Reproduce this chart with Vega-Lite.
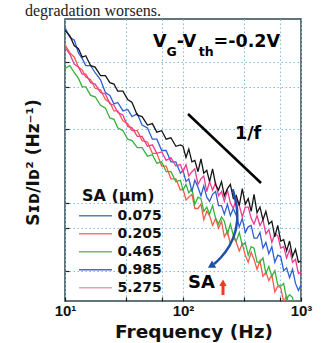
{
  "$schema": "https://vega.github.io/schema/vega-lite/v6.json",
  "width": 236,
  "height": 282,
  "autosize": {"type": "none"},
  "padding": {"left": 65, "top": 19, "right": 31, "bottom": 42},
  "background": "white",
  "title": {"text": "degradation worsens.", "anchor": "start", "frame": "group", "dx": -40, "offset": -12.5, "baseline": "alphabetic", "font": "Liberation Serif", "fontSize": 16, "fontWeight": "normal", "color": "#222222"},
  "config": {"view": {"stroke": "#2f4a4f", "strokeWidth": 1.5}},
  "datasets": {
    "legendkey": [
      {"sa": "0.075", "freq": 100, "lp": -7},
      {"sa": "0.205", "freq": 100, "lp": -7},
      {"sa": "0.465", "freq": 100, "lp": -7},
      {"sa": "0.985", "freq": 100, "lp": -7},
      {"sa": "5.275", "freq": 100, "lp": -7}
    ],
    "spectra": [
      {"sa":"0.205","freq":10,"lp":-6.40},{"sa":"0.205","freq":11,"lp":-6.46},{"sa":"0.205","freq":12,"lp":-6.49},{"sa":"0.205","freq":13,"lp":-6.56},{"sa":"0.205","freq":14,"lp":-6.58},{"sa":"0.205","freq":15,"lp":-6.63},{"sa":"0.205","freq":16.5,"lp":-6.65},{"sa":"0.205","freq":18,"lp":-6.71},{"sa":"0.205","freq":20,"lp":-6.72},{"sa":"0.205","freq":22,"lp":-6.79},{"sa":"0.205","freq":24,"lp":-6.81},{"sa":"0.205","freq":26,"lp":-6.87},{"sa":"0.205","freq":28,"lp":-6.87},{"sa":"0.205","freq":31,"lp":-6.94},{"sa":"0.205","freq":34,"lp":-6.96},{"sa":"0.205","freq":37,"lp":-7.01},{"sa":"0.205","freq":41,"lp":-7.01},{"sa":"0.205","freq":45,"lp":-7.08},{"sa":"0.205","freq":50,"lp":-7.09},{"sa":"0.205","freq":55,"lp":-7.17},{"sa":"0.205","freq":60,"lp":-7.17},{"sa":"0.205","freq":66,"lp":-7.26},{"sa":"0.205","freq":72,"lp":-7.26},{"sa":"0.205","freq":79,"lp":-7.35},{"sa":"0.205","freq":87,"lp":-7.35},{"sa":"0.205","freq":95,"lp":-7.43},
      {"sa":"0.205","freq":100,"lp":-7.42},{"sa":"0.205","freq":106,"lp":-7.50},{"sa":"0.205","freq":112,"lp":-7.48},{"sa":"0.205","freq":119,"lp":-7.46},{"sa":"0.205","freq":126,"lp":-7.56},{"sa":"0.205","freq":134,"lp":-7.56},{"sa":"0.205","freq":142,"lp":-7.53},{"sa":"0.205","freq":150,"lp":-7.64},{"sa":"0.205","freq":159,"lp":-7.58},{"sa":"0.205","freq":168,"lp":-7.61},{"sa":"0.205","freq":178,"lp":-7.68},{"sa":"0.205","freq":189,"lp":-7.63},{"sa":"0.205","freq":200,"lp":-7.70},{"sa":"0.205","freq":212,"lp":-7.65},{"sa":"0.205","freq":224,"lp":-7.76},{"sa":"0.205","freq":238,"lp":-7.72},{"sa":"0.205","freq":252,"lp":-7.81},{"sa":"0.205","freq":267,"lp":-7.76},{"sa":"0.205","freq":283,"lp":-7.80},{"sa":"0.205","freq":300,"lp":-7.86},{"sa":"0.205","freq":318,"lp":-7.81},{"sa":"0.205","freq":337,"lp":-7.89},{"sa":"0.205","freq":357,"lp":-7.94},{"sa":"0.205","freq":378,"lp":-7.87},{"sa":"0.205","freq":400,"lp":-7.92},{"sa":"0.205","freq":424,"lp":-7.99},{"sa":"0.205","freq":449,"lp":-7.93},{"sa":"0.205","freq":476,"lp":-8.04},{"sa":"0.205","freq":504,"lp":-8.01},{"sa":"0.205","freq":534,"lp":-8.07},{"sa":"0.205","freq":566,"lp":-8.03},{"sa":"0.205","freq":600,"lp":-8.15},{"sa":"0.205","freq":635,"lp":-8.11},{"sa":"0.205","freq":673,"lp":-8.12},{"sa":"0.205","freq":713,"lp":-8.22},{"sa":"0.205","freq":755,"lp":-8.18},{"sa":"0.205","freq":800,"lp":-8.27},{"sa":"0.205","freq":848,"lp":-8.26},{"sa":"0.205","freq":898,"lp":-8.36},{"sa":"0.205","freq":951,"lp":-8.34},{"sa":"0.205","freq":1000,"lp":-8.39},
      {"sa":"0.465","freq":10,"lp":-6.57},{"sa":"0.465","freq":11,"lp":-6.55},{"sa":"0.465","freq":12,"lp":-6.60},{"sa":"0.465","freq":13,"lp":-6.64},{"sa":"0.465","freq":14,"lp":-6.70},{"sa":"0.465","freq":15,"lp":-6.70},{"sa":"0.465","freq":16.5,"lp":-6.76},{"sa":"0.465","freq":18,"lp":-6.77},{"sa":"0.465","freq":20,"lp":-6.83},{"sa":"0.465","freq":22,"lp":-6.85},{"sa":"0.465","freq":24,"lp":-6.92},{"sa":"0.465","freq":26,"lp":-6.93},{"sa":"0.465","freq":28,"lp":-6.99},{"sa":"0.465","freq":31,"lp":-7.01},{"sa":"0.465","freq":34,"lp":-7.07},{"sa":"0.465","freq":37,"lp":-7.08},{"sa":"0.465","freq":41,"lp":-7.13},{"sa":"0.465","freq":45,"lp":-7.13},{"sa":"0.465","freq":50,"lp":-7.19},{"sa":"0.465","freq":55,"lp":-7.18},{"sa":"0.465","freq":60,"lp":-7.24},{"sa":"0.465","freq":66,"lp":-7.23},{"sa":"0.465","freq":72,"lp":-7.30},{"sa":"0.465","freq":79,"lp":-7.30},{"sa":"0.465","freq":87,"lp":-7.37},{"sa":"0.465","freq":95,"lp":-7.36},
      {"sa":"0.465","freq":100,"lp":-7.43},{"sa":"0.465","freq":106,"lp":-7.39},{"sa":"0.465","freq":112,"lp":-7.45},{"sa":"0.465","freq":119,"lp":-7.42},{"sa":"0.465","freq":126,"lp":-7.53},{"sa":"0.465","freq":134,"lp":-7.48},{"sa":"0.465","freq":142,"lp":-7.49},{"sa":"0.465","freq":150,"lp":-7.58},{"sa":"0.465","freq":159,"lp":-7.55},{"sa":"0.465","freq":168,"lp":-7.60},{"sa":"0.465","freq":178,"lp":-7.54},{"sa":"0.465","freq":189,"lp":-7.63},{"sa":"0.465","freq":200,"lp":-7.67},{"sa":"0.465","freq":212,"lp":-7.62},{"sa":"0.465","freq":224,"lp":-7.65},{"sa":"0.465","freq":238,"lp":-7.74},{"sa":"0.465","freq":252,"lp":-7.67},{"sa":"0.465","freq":267,"lp":-7.75},{"sa":"0.465","freq":283,"lp":-7.79},{"sa":"0.465","freq":300,"lp":-7.73},{"sa":"0.465","freq":318,"lp":-7.82},{"sa":"0.465","freq":337,"lp":-7.80},{"sa":"0.465","freq":357,"lp":-7.89},{"sa":"0.465","freq":378,"lp":-7.83},{"sa":"0.465","freq":400,"lp":-7.84},{"sa":"0.465","freq":424,"lp":-7.94},{"sa":"0.465","freq":449,"lp":-7.94},{"sa":"0.465","freq":476,"lp":-7.91},{"sa":"0.465","freq":504,"lp":-8.02},{"sa":"0.465","freq":534,"lp":-7.97},{"sa":"0.465","freq":566,"lp":-8.04},{"sa":"0.465","freq":600,"lp":-8.00},{"sa":"0.465","freq":635,"lp":-8.10},{"sa":"0.465","freq":673,"lp":-8.11},{"sa":"0.465","freq":713,"lp":-8.09},{"sa":"0.465","freq":755,"lp":-8.20},{"sa":"0.465","freq":800,"lp":-8.17},{"sa":"0.465","freq":848,"lp":-8.19},{"sa":"0.465","freq":898,"lp":-8.30},{"sa":"0.465","freq":951,"lp":-8.27},{"sa":"0.465","freq":1000,"lp":-8.33},
      {"sa":"0.985","freq":10,"lp":-6.28},{"sa":"0.985","freq":11,"lp":-6.35},{"sa":"0.985","freq":12,"lp":-6.37},{"sa":"0.985","freq":13,"lp":-6.46},{"sa":"0.985","freq":14,"lp":-6.50},{"sa":"0.985","freq":15,"lp":-6.55},{"sa":"0.985","freq":16.5,"lp":-6.55},{"sa":"0.985","freq":18,"lp":-6.60},{"sa":"0.985","freq":20,"lp":-6.65},{"sa":"0.985","freq":22,"lp":-6.74},{"sa":"0.985","freq":24,"lp":-6.76},{"sa":"0.985","freq":26,"lp":-6.82},{"sa":"0.985","freq":28,"lp":-6.81},{"sa":"0.985","freq":31,"lp":-6.87},{"sa":"0.985","freq":34,"lp":-6.86},{"sa":"0.985","freq":37,"lp":-6.91},{"sa":"0.985","freq":41,"lp":-6.89},{"sa":"0.985","freq":45,"lp":-6.97},{"sa":"0.985","freq":50,"lp":-6.99},{"sa":"0.985","freq":55,"lp":-7.07},{"sa":"0.985","freq":60,"lp":-7.07},{"sa":"0.985","freq":66,"lp":-7.15},{"sa":"0.985","freq":72,"lp":-7.15},{"sa":"0.985","freq":79,"lp":-7.23},{"sa":"0.985","freq":87,"lp":-7.23},{"sa":"0.985","freq":95,"lp":-7.31},
      {"sa":"0.985","freq":100,"lp":-7.29},{"sa":"0.985","freq":106,"lp":-7.37},{"sa":"0.985","freq":112,"lp":-7.35},{"sa":"0.985","freq":119,"lp":-7.44},{"sa":"0.985","freq":126,"lp":-7.36},{"sa":"0.985","freq":134,"lp":-7.41},{"sa":"0.985","freq":142,"lp":-7.47},{"sa":"0.985","freq":150,"lp":-7.40},{"sa":"0.985","freq":159,"lp":-7.48},{"sa":"0.985","freq":168,"lp":-7.51},{"sa":"0.985","freq":178,"lp":-7.46},{"sa":"0.985","freq":189,"lp":-7.44},{"sa":"0.985","freq":200,"lp":-7.54},{"sa":"0.985","freq":212,"lp":-7.54},{"sa":"0.985","freq":224,"lp":-7.60},{"sa":"0.985","freq":238,"lp":-7.53},{"sa":"0.985","freq":252,"lp":-7.61},{"sa":"0.985","freq":267,"lp":-7.56},{"sa":"0.985","freq":283,"lp":-7.61},{"sa":"0.985","freq":300,"lp":-7.69},{"sa":"0.985","freq":318,"lp":-7.63},{"sa":"0.985","freq":337,"lp":-7.73},{"sa":"0.985","freq":357,"lp":-7.69},{"sa":"0.985","freq":378,"lp":-7.68},{"sa":"0.985","freq":400,"lp":-7.77},{"sa":"0.985","freq":424,"lp":-7.77},{"sa":"0.985","freq":449,"lp":-7.73},{"sa":"0.985","freq":476,"lp":-7.84},{"sa":"0.985","freq":504,"lp":-7.80},{"sa":"0.985","freq":534,"lp":-7.88},{"sa":"0.985","freq":566,"lp":-7.83},{"sa":"0.985","freq":600,"lp":-7.94},{"sa":"0.985","freq":635,"lp":-7.89},{"sa":"0.985","freq":673,"lp":-7.90},{"sa":"0.985","freq":713,"lp":-8.00},{"sa":"0.985","freq":755,"lp":-7.98},{"sa":"0.985","freq":800,"lp":-8.05},{"sa":"0.985","freq":848,"lp":-7.99},{"sa":"0.985","freq":898,"lp":-8.09},{"sa":"0.985","freq":951,"lp":-8.14},{"sa":"0.985","freq":1000,"lp":-8.10},
      {"sa":"5.275","freq":10,"lp":-6.42},{"sa":"5.275","freq":11,"lp":-6.47},{"sa":"5.275","freq":12,"lp":-6.54},{"sa":"5.275","freq":13,"lp":-6.56},{"sa":"5.275","freq":14,"lp":-6.61},{"sa":"5.275","freq":15,"lp":-6.61},{"sa":"5.275","freq":16.5,"lp":-6.67},{"sa":"5.275","freq":18,"lp":-6.68},{"sa":"5.275","freq":20,"lp":-6.74},{"sa":"5.275","freq":22,"lp":-6.75},{"sa":"5.275","freq":24,"lp":-6.82},{"sa":"5.275","freq":26,"lp":-6.83},{"sa":"5.275","freq":28,"lp":-6.88},{"sa":"5.275","freq":31,"lp":-6.90},{"sa":"5.275","freq":34,"lp":-6.98},{"sa":"5.275","freq":37,"lp":-6.99},{"sa":"5.275","freq":41,"lp":-7.05},{"sa":"5.275","freq":45,"lp":-7.05},{"sa":"5.275","freq":50,"lp":-7.12},{"sa":"5.275","freq":55,"lp":-7.11},{"sa":"5.275","freq":60,"lp":-7.17},{"sa":"5.275","freq":66,"lp":-7.16},{"sa":"5.275","freq":72,"lp":-7.22},{"sa":"5.275","freq":79,"lp":-7.20},{"sa":"5.275","freq":87,"lp":-7.26},{"sa":"5.275","freq":95,"lp":-7.25},
      {"sa":"5.275","freq":100,"lp":-7.30},{"sa":"5.275","freq":106,"lp":-7.25},{"sa":"5.275","freq":112,"lp":-7.33},{"sa":"5.275","freq":119,"lp":-7.30},{"sa":"5.275","freq":126,"lp":-7.28},{"sa":"5.275","freq":134,"lp":-7.39},{"sa":"5.275","freq":142,"lp":-7.35},{"sa":"5.275","freq":150,"lp":-7.33},{"sa":"5.275","freq":159,"lp":-7.44},{"sa":"5.275","freq":168,"lp":-7.37},{"sa":"5.275","freq":178,"lp":-7.43},{"sa":"5.275","freq":189,"lp":-7.38},{"sa":"5.275","freq":200,"lp":-7.47},{"sa":"5.275","freq":212,"lp":-7.44},{"sa":"5.275","freq":224,"lp":-7.51},{"sa":"5.275","freq":238,"lp":-7.43},{"sa":"5.275","freq":252,"lp":-7.52},{"sa":"5.275","freq":267,"lp":-7.56},{"sa":"5.275","freq":283,"lp":-7.49},{"sa":"5.275","freq":300,"lp":-7.54},{"sa":"5.275","freq":318,"lp":-7.62},{"sa":"5.275","freq":337,"lp":-7.55},{"sa":"5.275","freq":357,"lp":-7.55},{"sa":"5.275","freq":378,"lp":-7.63},{"sa":"5.275","freq":400,"lp":-7.67},{"sa":"5.275","freq":424,"lp":-7.61},{"sa":"5.275","freq":449,"lp":-7.68},{"sa":"5.275","freq":476,"lp":-7.64},{"sa":"5.275","freq":504,"lp":-7.74},{"sa":"5.275","freq":534,"lp":-7.71},{"sa":"5.275","freq":566,"lp":-7.80},{"sa":"5.275","freq":600,"lp":-7.74},{"sa":"5.275","freq":635,"lp":-7.75},{"sa":"5.275","freq":673,"lp":-7.84},{"sa":"5.275","freq":713,"lp":-7.83},{"sa":"5.275","freq":755,"lp":-7.91},{"sa":"5.275","freq":800,"lp":-7.85},{"sa":"5.275","freq":848,"lp":-7.94},{"sa":"5.275","freq":898,"lp":-7.92},{"sa":"5.275","freq":951,"lp":-8.02},{"sa":"5.275","freq":1000,"lp":-8.01},
      {"sa":"0.075","freq":10,"lp":-6.30},{"sa":"0.075","freq":11,"lp":-6.34},{"sa":"0.075","freq":12,"lp":-6.41},{"sa":"0.075","freq":13,"lp":-6.43},{"sa":"0.075","freq":14,"lp":-6.49},{"sa":"0.075","freq":15,"lp":-6.48},{"sa":"0.075","freq":16.5,"lp":-6.55},{"sa":"0.075","freq":18,"lp":-6.56},{"sa":"0.075","freq":20,"lp":-6.62},{"sa":"0.075","freq":22,"lp":-6.62},{"sa":"0.075","freq":24,"lp":-6.67},{"sa":"0.075","freq":26,"lp":-6.68},{"sa":"0.075","freq":28,"lp":-6.73},{"sa":"0.075","freq":31,"lp":-6.73},{"sa":"0.075","freq":34,"lp":-6.79},{"sa":"0.075","freq":37,"lp":-6.81},{"sa":"0.075","freq":41,"lp":-6.90},{"sa":"0.075","freq":45,"lp":-6.91},{"sa":"0.075","freq":50,"lp":-6.97},{"sa":"0.075","freq":55,"lp":-6.96},{"sa":"0.075","freq":60,"lp":-7.02},{"sa":"0.075","freq":66,"lp":-7.01},{"sa":"0.075","freq":72,"lp":-7.07},{"sa":"0.075","freq":79,"lp":-7.06},{"sa":"0.075","freq":87,"lp":-7.12},{"sa":"0.075","freq":95,"lp":-7.11},
      {"sa":"0.075","freq":100,"lp":-7.12},{"sa":"0.075","freq":106,"lp":-7.20},{"sa":"0.075","freq":112,"lp":-7.14},{"sa":"0.075","freq":119,"lp":-7.23},{"sa":"0.075","freq":126,"lp":-7.22},{"sa":"0.075","freq":134,"lp":-7.30},{"sa":"0.075","freq":142,"lp":-7.21},{"sa":"0.075","freq":150,"lp":-7.31},{"sa":"0.075","freq":159,"lp":-7.29},{"sa":"0.075","freq":168,"lp":-7.37},{"sa":"0.075","freq":178,"lp":-7.28},{"sa":"0.075","freq":189,"lp":-7.39},{"sa":"0.075","freq":200,"lp":-7.43},{"sa":"0.075","freq":212,"lp":-7.37},{"sa":"0.075","freq":224,"lp":-7.47},{"sa":"0.075","freq":238,"lp":-7.42},{"sa":"0.075","freq":252,"lp":-7.39},{"sa":"0.075","freq":267,"lp":-7.49},{"sa":"0.075","freq":283,"lp":-7.47},{"sa":"0.075","freq":300,"lp":-7.54},{"sa":"0.075","freq":318,"lp":-7.42},{"sa":"0.075","freq":337,"lp":-7.53},{"sa":"0.075","freq":357,"lp":-7.49},{"sa":"0.075","freq":378,"lp":-7.58},{"sa":"0.075","freq":400,"lp":-7.46},{"sa":"0.075","freq":424,"lp":-7.59},{"sa":"0.075","freq":449,"lp":-7.55},{"sa":"0.075","freq":476,"lp":-7.64},{"sa":"0.075","freq":504,"lp":-7.58},{"sa":"0.075","freq":534,"lp":-7.67},{"sa":"0.075","freq":566,"lp":-7.65},{"sa":"0.075","freq":600,"lp":-7.76},{"sa":"0.075","freq":635,"lp":-7.68},{"sa":"0.075","freq":673,"lp":-7.79},{"sa":"0.075","freq":713,"lp":-7.78},{"sa":"0.075","freq":755,"lp":-7.86},{"sa":"0.075","freq":800,"lp":-7.79},{"sa":"0.075","freq":848,"lp":-7.90},{"sa":"0.075","freq":898,"lp":-7.85},{"sa":"0.075","freq":951,"lp":-7.94},{"sa":"0.075","freq":1000,"lp":-7.93}
    ],
    "slope": [{"freq": 110.3, "lp": -6.892}, {"freq": 458.1, "lp": -7.380}],
    "bigtext": [
      {"t": "V", "freq": 55.7, "lp": -6.416},
      {"t": "-V", "freq": 88.6, "lp": -6.416},
      {"t": "=-0.2V", "freq": 181.7, "lp": -6.416},
      {"t": "1/f", "freq": 275.9, "lp": -7.069}
    ],
    "subtext": [
      {"t": "G", "freq": 72.5, "lp": -6.482},
      {"t": "th", "freq": 135.9, "lp": -6.482}
    ],
    "satext": [{"t": "SA", "freq": 110.3, "lp": -8.122}],
    "bluearrow": [
      {"i": 1, "freq": 263.8, "lp": -7.424},
      {"i": 2, "freq": 294.2, "lp": -7.571},
      {"i": 3, "freq": 285.2, "lp": -7.712},
      {"i": 4, "freq": 250.2, "lp": -7.830},
      {"i": 5, "freq": 205.9, "lp": -7.917},
      {"i": 6, "freq": 183.1, "lp": -7.953}
    ],
    "bluehead": [{"freq": 172.7, "lp": -7.967}],
    "redarrow": [{"freq": 218.3, "lp": -8.172, "lp2": -8.100}],
    "redhead": [{"freq": 218.3, "lp": -8.085}]
  },
  "encoding": {
    "x": {"field": "freq", "type": "quantitative",
      "scale": {"type": "log", "domain": [10, 1000], "nice": false},
      "axis": {"title": "Frequency (Hz)", "values": [10, 33, 66, 100, 330, 660, 1000],
        "labelExpr": "datum.value == 10 ? '10¹' : datum.value == 100 ? '10²' : datum.value == 1000 ? '10³' : ''",
        "labelOverlap": false, "labelBound": false, "labelFlush": false,
        "grid": true, "gridColor": "#7cbce6", "gridDash": [1.5, 2.5], "gridWidth": 1,
        "domain": false, "tickSize": -4, "tickColor": "#222222", "tickWidth": 1.2,
        "labelFont": "Liberation Sans", "labelFontWeight": "bold", "labelFontSize": 15, "labelColor": "#111111",
        "labelBaseline": "alphabetic", "labelPadding": 18,
        "titleFont": "DejaVu Sans", "titleFontWeight": "bold", "titleFontSize": 18.5, "titleColor": "#111111",
        "titleX": 128.5, "titleY": 36, "titleBaseline": "alphabetic", "titleAlign": "center"}},
    "y": {"field": "lp", "type": "quantitative",
      "scale": {"domain": [-8.2143, -6.22], "nice": false, "zero": false},
      "axis": {"title": "Sɪᴅ/Iᴅ² (Hz⁻¹)", "values": [-8, -7.699, -7.5229, -7, -6.699, -6.5229],
        "labels": false, "grid": true, "gridColor": "#7cbce6", "gridDash": [1.5, 2.5], "gridWidth": 1,
        "domain": false, "tickSize": -4, "tickColor": "#222222", "tickWidth": 1.2,
        "titleFont": "DejaVu Sans", "titleFontWeight": "bold", "titleFontSize": 17, "titleColor": "#111111",
        "titleAngle": -90, "titleX": -27, "titleY": 143, "titleAlign": "center", "titleBaseline": "alphabetic"}}
  },
  "layer": [
    {
      "data": {"name": "legendkey"},
      "mark": {"type": "line"},
      "encoding": {
        "color": {"field": "sa", "type": "nominal",
          "scale": {"domain": ["0.075", "0.205", "0.465", "0.985", "5.275"], "range": ["#4a86a6", "#f37a7a", "#62c462", "#3b6fd4", "#f49ac2"]},
          "legend": {"title": "SA (μm)", "orient": "none", "legendX": 17, "legendY": 169, "padding": 0,
            "titleFont": "DejaVu Sans", "titleFontWeight": "bold", "titleFontSize": 16, "titleColor": "#111111", "titlePadding": 4.7,
            "labelFont": "DejaVu Sans", "labelFontWeight": "bold", "labelFontSize": 14, "labelColor": "#111111",
            "symbolType": "M-3.3,0H3.3", "symbolSize": 100, "symbolStrokeWidth": 1.5, "symbolOffset": 6.5, "labelOffset": 15, "rowPadding": 4}}
      }
    },
    {
      "data": {"name": "spectra"},
      "mark": {"type": "line", "strokeWidth": 1.3, "clip": true},
      "encoding": {
        "color": {"field": "sa", "type": "nominal",
          "scale": {"domain": ["0.075", "0.205", "0.465", "0.985", "5.275"], "range": ["#151515", "#f25c4a", "#35b33a", "#2f5fcf", "#ec3a8e"]},
          "legend": null}
      }
    },
    {
      "data": {"name": "slope"},
      "mark": {"type": "line", "color": "#000000", "strokeWidth": 2.5},
      "encoding": {}
    },
    {
      "data": {"name": "bigtext"},
      "mark": {"type": "text", "align": "left", "baseline": "alphabetic", "font": "DejaVu Sans", "fontWeight": "bold", "fontSize": 17.5, "color": "#000000"},
      "encoding": {"text": {"field": "t"}}
    },
    {
      "data": {"name": "subtext"},
      "mark": {"type": "text", "align": "left", "baseline": "alphabetic", "font": "DejaVu Sans", "fontWeight": "bold", "fontSize": 12.5, "color": "#000000"},
      "encoding": {"text": {"field": "t"}}
    },
    {
      "data": {"name": "satext"},
      "mark": {"type": "text", "align": "left", "baseline": "alphabetic", "font": "DejaVu Sans", "fontWeight": "bold", "fontSize": 18, "color": "#000000"},
      "encoding": {"text": {"field": "t"}}
    },
    {
      "data": {"name": "bluearrow"},
      "mark": {"type": "line", "color": "#1f4fa8", "strokeWidth": 2.5, "interpolate": "basis"},
      "encoding": {"order": {"field": "i", "type": "quantitative"}}
    },
    {
      "data": {"name": "bluehead"},
      "mark": {"type": "point", "shape": "triangle-left", "filled": true, "size": 70, "angle": -30, "color": "#1f4fa8", "opacity": 1},
      "encoding": {}
    },
    {
      "data": {"name": "redarrow"},
      "mark": {"type": "rule", "color": "#f03a1e", "strokeWidth": 3},
      "encoding": {"y2": {"field": "lp2"}}
    },
    {
      "data": {"name": "redhead"},
      "mark": {"type": "point", "shape": "triangle-up", "filled": true, "size": 55, "color": "#f03a1e", "opacity": 1},
      "encoding": {}
    }
  ],
  "resolve": {"scale": {"color": "independent"}}
}
